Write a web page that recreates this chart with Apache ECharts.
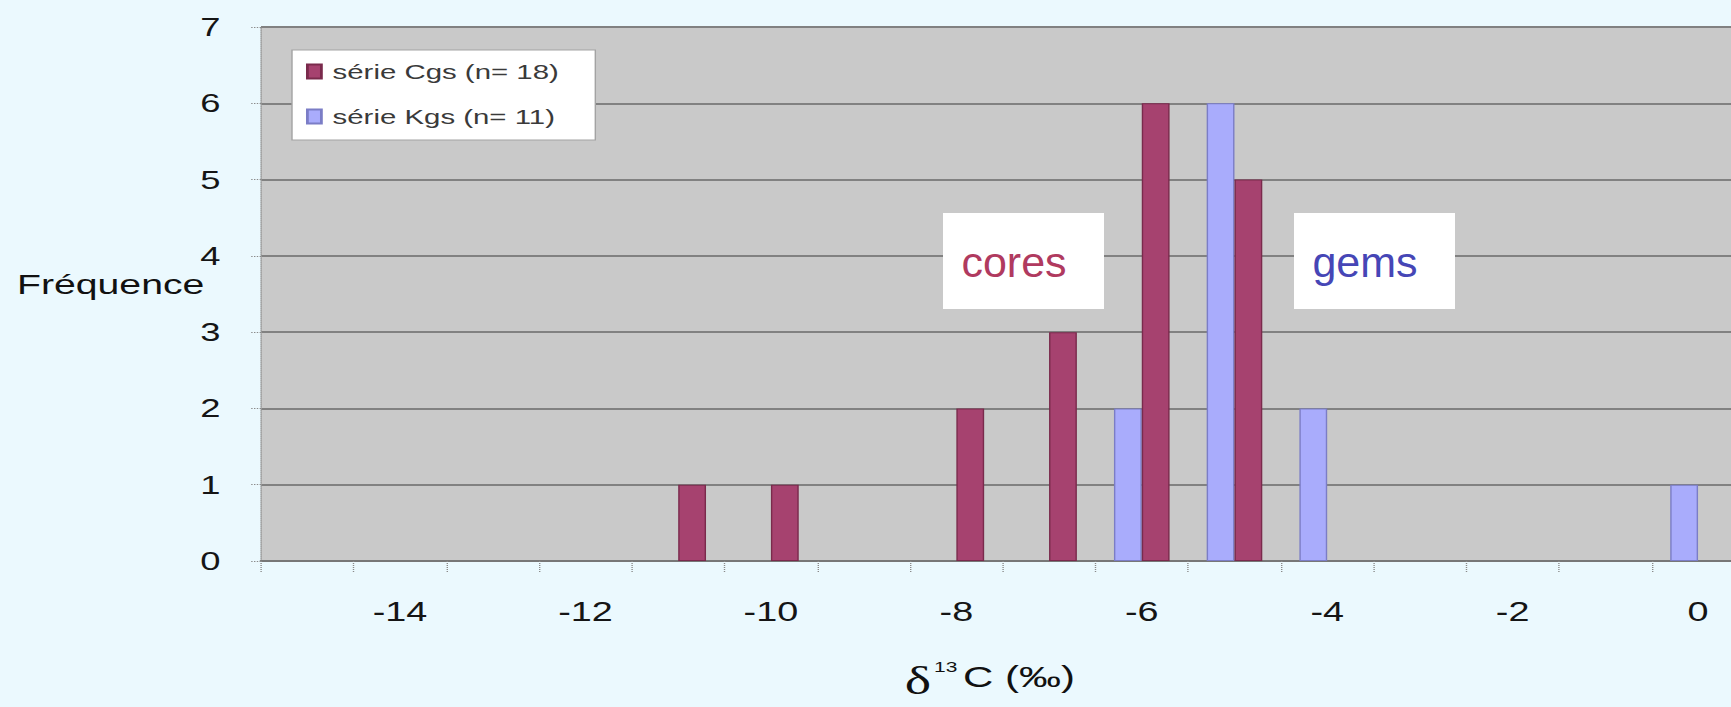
<!DOCTYPE html>
<html>
<head>
<meta charset="utf-8">
<script src="https://cdn.jsdelivr.net/npm/echarts@6/dist/echarts.min.js"></script>
<style>
  html, body { margin: 0; padding: 0; background: #ebf9fe; overflow: hidden; width: 1731px; height: 707px; }
  /* The whole figure is drawn in a narrower box and widened horizontally. */
  #chart { width: 1246px; height: 707px; transform: scaleX(1.4); transform-origin: 0 0; }
</style>
</head>
<body>
<div id="chart"></div>
<script>
// Histogram of δ13C values (‰), one bin per integer value
const categories = ['-15', '-14', '-13', '-12', '-11', '-10', '-9', '-8', '-7', '-6', '-5', '-4', '-3', '-2', '-1', '0'];
const cgsCounts = [0, 0, 0, 0, 1, 1, 0, 2, 3, 6, 5, 0, 0, 0, 0, 0];
const kgsCounts = [0, 0, 0, 0, 0, 0, 0, 0, 0, 2, 6, 2, 0, 0, 0, 1];
const seriesNames = ['série Cgs (n= 18)', 'série Kgs (n= 11)'];
const yTicks = [0, 1, 2, 3, 4, 5, 6, 7];

const SX = 1.4;               // horizontal widening of the figure
const inv = 1 / SX;
const fx = v => v / SX;       // screen x -> drawing x

const chart = echarts.init(document.getElementById('chart'), null, { renderer: 'svg' });

const sansFont = '"Liberation Sans", Arial, sans-serif';

// empty bins get no outline, so nothing is stroked along the axis
const barData = (counts) => counts.map(v => (v === 0 ? { value: 0, itemStyle: { borderWidth: 0 } } : v));

chart.setOption({
  backgroundColor: '#ebf9fe',
  animation: false,
  grid: {
    left: fx(261), right: 0, top: 27, bottom: 146,
    show: true, backgroundColor: '#c9c9c9', borderWidth: 0
  },
  legend: {
    orient: 'vertical',
    left: fx(292), top: 50,
    data: seriesNames,
    backgroundColor: '#ffffff',
    borderColor: '#a3a3a3', borderWidth: 1,
    padding: [11, 26, 13, 10],
    itemWidth: 10, itemHeight: 14, itemGap: 24,
    icon: 'rect',
    textStyle: { fontFamily: sansFont, fontSize: 21, color: '#3a3a3a', padding: [0, 0, 0, 3] }
  },
  xAxis: {
    type: 'category',
    data: categories,
    axisLine: { show: true, lineStyle: { color: '#777777', width: 2 } },
    axisTick: { show: true, interval: 0, length: 12, lineStyle: { color: '#8a8a8a', type: 'dotted', width: 1 } },
    axisLabel: {
      interval: (i) => i % 2 === 1,
      fontFamily: sansFont, fontSize: 27, color: '#151515', margin: 37
    },
    splitLine: { show: false }
  },
  yAxis: {
    type: 'value',
    min: 0, max: 7, interval: 1,
    axisLine: { show: true, lineStyle: { color: '#9a9a9a', type: 'dotted', width: 1 } },
    axisTick: { show: true, length: 8, lineStyle: { color: '#8a8a8a', type: 'dotted', width: 1 } },
    axisLabel: {
      fontFamily: sansFont, fontSize: 26, color: '#151515', margin: 29,
      formatter: (v) => (yTicks.includes(v) ? String(v) : '')
    },
    splitLine: { show: true, lineStyle: { color: '#818181', width: 2 } }
  },
  series: [
    {
      name: seriesNames[1], type: 'bar', data: barData(kgsCounts),
      barGap: '0%', barCategoryGap: '40%',
      itemStyle: { color: '#a9acfc', borderColor: '#7b7dc6', borderWidth: 1 }
    },
    {
      name: seriesNames[0], type: 'bar', data: barData(cgsCounts),
      barGap: '0%', barCategoryGap: '40%',
      itemStyle: { color: '#a6426f', borderColor: '#7a2a4c', borderWidth: 1 }
    }
  ],
  graphic: [
    // y-axis title
    {
      type: 'text', x: fx(17), y: 284,
      style: { text: 'Fréquence', font: '28px ' + sansFont, fill: '#111111', align: 'left', verticalAlign: 'middle' }
    },
    // x-axis title: δ13C (‰)
    {
      type: 'text', x: fx(918), y: 681,
      style: { text: 'δ', font: '40px "Liberation Serif", serif', fill: '#111111', align: 'center', verticalAlign: 'middle' }
    },
    {
      type: 'text', x: fx(934), y: 667,
      style: { text: '13', font: '15px ' + sansFont, fill: '#111111', align: 'left', verticalAlign: 'middle' }
    },
    {
      type: 'text', x: fx(963), y: 677,
      style: { text: 'C (‰)', font: '30px ' + sansFont, fill: '#111111', align: 'left', verticalAlign: 'middle' }
    },
    // annotation boxes
    {
      type: 'rect', shape: { x: fx(943), y: 213, width: fx(161), height: 96 },
      style: { fill: '#ffffff' }, z: 10
    },
    {
      type: 'text', x: fx(1014), y: 262, scaleX: inv, z: 11,
      style: { text: 'cores', font: '43px ' + sansFont, fill: '#b03a5f', align: 'center', verticalAlign: 'middle' }
    },
    {
      type: 'rect', shape: { x: fx(1294), y: 213, width: fx(161), height: 96 },
      style: { fill: '#ffffff' }, z: 10
    },
    {
      type: 'text', x: fx(1365), y: 262, scaleX: inv, z: 11,
      style: { text: 'gems', font: '43px ' + sansFont, fill: '#4646b6', align: 'center', verticalAlign: 'middle' }
    }
  ]
});
</script>
</body>
</html>
